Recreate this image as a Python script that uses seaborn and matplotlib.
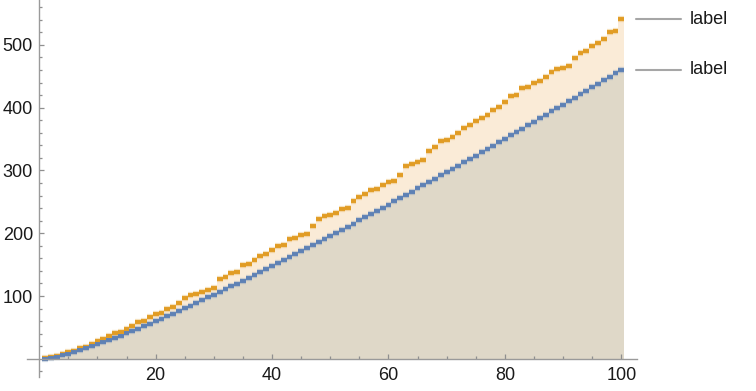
import matplotlib
matplotlib.use("Agg")
import matplotlib.pyplot as plt
import numpy as np
import pandas as pd
import seaborn as sns

# ---- data ----
n_values = list(range(1, 101))
upper_series = [2, 3, 5, 7, 11, 13, 17, 19, 23, 29, 31, 37, 41, 43, 47, 53, 59, 61, 67, 71,
                73, 79, 83, 89, 97, 101, 103, 107, 109, 113, 127, 131, 137, 139, 149, 151, 157, 163, 167, 173,
                179, 181, 191, 193, 197, 199, 211, 223, 227, 229, 233, 239, 241, 251, 257, 263, 269, 271, 277, 281,
                283, 293, 307, 311, 313, 317, 331, 337, 347, 349, 353, 359, 367, 373, 379, 383, 389, 397, 401, 409,
                419, 421, 431, 433, 439, 443, 449, 457, 461, 463, 467, 479, 487, 491, 499, 503, 509, 521, 523, 541]
lower_series = [0.0, 1.4, 3.3, 5.5, 8.0, 10.8, 13.6, 16.6, 19.8, 23.0,
                26.4, 29.8, 33.3, 36.9, 40.6, 44.4, 48.2, 52.0, 55.9, 59.9,
                63.9, 68.0, 72.1, 76.3, 80.5, 84.7, 89.0, 93.3, 97.7, 102.0,
                106.5, 110.9, 115.4, 119.9, 124.4, 129.0, 133.6, 138.2, 142.9, 147.6,
                152.3, 157.0, 161.7, 166.5, 171.3, 176.1, 181.0, 185.8, 190.7, 195.6,
                200.5, 205.5, 210.4, 215.4, 220.4, 225.4, 230.5, 235.5, 240.6, 245.7,
                250.8, 255.9, 261.0, 266.2, 271.3, 276.5, 281.7, 286.9, 292.2, 297.4,
                302.6, 307.9, 313.2, 318.5, 323.8, 329.1, 334.5, 339.8, 345.2, 350.6,
                356.0, 361.4, 366.8, 372.2, 377.6, 383.1, 388.5, 394.0, 399.5, 405.0,
                410.5, 416.0, 421.5, 427.1, 432.6, 438.2, 443.7, 449.3, 454.9, 460.5]
series_labels = ["label", "label"]
x_major = [20, 40, 60, 80, 100]
y_major = [100, 200, 300, 400, 500]

ORANGE = "#E19C24"
BLUE = "#5E81B5"
ORANGE_FILL = "#FAEBD7"
BLUE_FILL = "#DFD8C8"

df = pd.DataFrame({"n": n_values, "upper": upper_series, "lower": lower_series})

sns.set_theme(style="white")
plt.rcParams["font.family"] = ["Liberation Sans", "DejaVu Sans"]

fig = plt.figure(figsize=(7.56, 3.91), dpi=100)
ax = fig.add_axes([27 / 756, 14 / 391, 610 / 756, 377 / 391])
ax.set_axisbelow(False)

# filling to axis (full-extent bars)
ax.bar(df["n"], df["upper"], width=1.0, color=ORANGE_FILL, linewidth=0, zorder=1)
ax.bar(df["n"], df["lower"], width=1.0, color=BLUE_FILL, linewidth=0, zorder=1)

# horizontal full-extent segments
for col, c in [("upper", ORANGE), ("lower", BLUE)]:
    ax.hlines(df[col], df["n"] - 0.5, df["n"] + 0.5, color=c, lw=4.5, alpha=0.3, zorder=2)
    ax.hlines(df[col], df["n"] - 0.5, df["n"] + 0.5, color=c, lw=2.8, zorder=3)

ax.set_xlim(-2.1, 102.7)
ax.set_ylim(-29, 571.6)
ax.set_xlabel("")
ax.set_ylabel("")

# axes through origin
for s in ["top", "right"]:
    ax.spines[s].set_visible(False)
ax.spines["left"].set_position(("data", 0))
ax.spines["bottom"].set_position(("data", 0))
for s in ["left", "bottom"]:
    ax.spines[s].set_color("#9a9a9a")
    ax.spines[s].set_linewidth(1.0)
    ax.spines[s].set_zorder(4)

ax.set_xticks(x_major)
ax.set_xticklabels([str(v) for v in x_major])
ax.set_xticks([v for v in range(5, 101, 5) if v not in x_major], minor=True)
ax.set_yticks(y_major)
ax.set_yticklabels([str(v) for v in y_major])
ax.set_yticks([v for v in range(-20, 571, 20) if v not in y_major and v != 0], minor=True)

ax.tick_params(axis="both", which="both", direction="in", color="#8f8f8f", width=0.9,
               labelsize=13, labelcolor="#1a1a1a", bottom=True, left=True)
ax.tick_params(axis="both", which="major", length=3.6)
ax.tick_params(axis="both", which="minor", length=2.1)
ax.tick_params(axis="x", which="major", pad=6)
ax.tick_params(axis="y", which="major", pad=4.5)
ax.grid(False)

# labels at the right end of each series
for col, lab in zip(["upper", "lower"], series_labels):
    yv = df[col].iloc[-1]
    ax.plot([102.5, 110.3], [yv, yv], color="#a6a6a6", lw=1.5, clip_on=False, zorder=4)
    ax.text(111.8, yv, lab, va="center", ha="left", fontsize=13, color="#1a1a1a", clip_on=False)

fig.savefig("out.png", dpi=100)
